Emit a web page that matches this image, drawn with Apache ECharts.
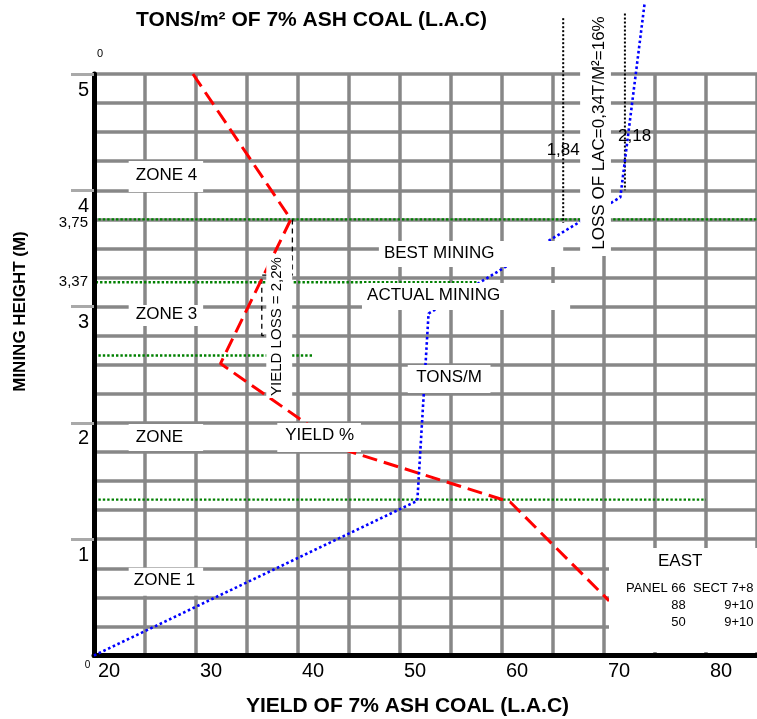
<!DOCTYPE html>
<html>
<head>
<meta charset="utf-8">
<script src="https://cdn.jsdelivr.net/npm/echarts@6/dist/echarts.min.js"></script>
<style>html,body{margin:0;padding:0;background:#fff;}#c{width:757px;height:719px;}</style>
</head>
<body>
<div id="c"></div>
<script>
// ---- data ----
const yieldPct    = [29.7, 39.3, 32.4, 44.5, 60.8, 70.5];
const yieldHeight = [5.0, 3.75, 2.51, 1.77, 1.32, 0.47];
const tonsPos     = [20, 51.7, 52.8, 71.6, 74.0];
const tonsHeight  = [0, 1.33, 2.94, 3.94, 5.62];
const levelHeight = [3.75, 3.21, 2.58, 1.34];
const levelStart  = [20, 19.3, 20, 20];
const levelEnd    = [85, 57.7, 41.4, 80];
const lossLineX      = [66.0, 72.05];
const lossLineTop    = [5.48, 5.52];
const lossLineBottom = [3.72, 4.0];
const bracketX = [39.45, 39.45, 36.45, 36.45, 37.3];
const bracketY = [3.75, 3.27, 3.27, 2.75, 2.75];
const xTickLabels = [20, 30, 40, 50, 60, 70, 80];
const yTickLabels = [1, 2, 3, 4, 5];

const FONT = "'Liberation Sans', Arial, sans-serif";

// annotation boxes/texts (in data units)
const notes = [
  {box:[23.4, 3.985, 30.7, 4.252], texts:[{t:'ZONE 4', at:[24.1, 4.13], align:'left', size:17}]},
  {box:[23.4, 2.833, 30.7, 3.014], texts:[{t:'ZONE 3', at:[24.1, 2.932], align:'left', size:17}]},
  {box:[23.4, 1.758, 30.7, 1.991], texts:[{t:'ZONE', at:[24.1, 1.874], align:'left', size:17}]},
  {box:[23.4, 0.514, 30.7, 0.755], texts:[{t:'ZONE 1', at:[23.9, 0.649], align:'left', size:17}]},
  {box:[37.97, 1.75, 46.17, 1.999], texts:[{t:'YIELD %', at:[42.12, 1.896], size:17}]},
  {box:[47.93, 3.341, 66.0, 3.564], texts:[{t:'BEST MINING', at:[53.84, 3.457], size:17}]},
  {box:[46.27, 2.971, 66.68, 3.203], texts:[{t:'ACTUAL MINING', at:[53.3, 3.10], size:17}]},
  {box:[50.76, 2.257, 58.87, 2.498], texts:[{t:'TONS/M', at:[54.81, 2.395], size:17}]},
  {box:[36.89, 2.214, 39.43, 3.435], texts:[{t:'YIELD LOSS = 2,2%', at:[37.92, 2.829], size:15, rot:90}]},
  {box:[67.66, 3.435, 70.68, 5.568], texts:[{t:'LOSS OF LAC=0,34T/M\u00B2=16%', at:[69.51, 4.493], size:17, rot:90}]},
  {box:[70.49, 0.03, 85.04, 0.924], texts:[
    {t:'EAST', at:[77.47, 0.808], size:17},
    {t:'PANEL 66', at:[78.01, 0.58], size:13, align:'right'},
    {t:'SECT 7+8', at:[84.65, 0.58], size:13, align:'right'},
    {t:'88', at:[78.01, 0.428], size:13, align:'right'},
    {t:'9+10', at:[84.65, 0.428], size:13, align:'right'},
    {t:'50', at:[78.01, 0.282], size:13, align:'right'},
    {t:'9+10', at:[84.65, 0.282], size:13, align:'right'}
  ]},
  {box:null, texts:[
    {t:'1,84', at:[66.0, 4.347], size:17},
    {t:'2,18', at:[73.0, 4.461], size:17},
    {t:'3,75', at:[19.41, 3.719], size:15, align:'right'},
    {t:'3,37', at:[19.41, 3.211], size:15, align:'right'},
    {t:'0', at:[20.59, 5.172], size:11},
    {t:'0', at:[19.36, -0.082], size:10}
  ]}
];

const series = [];
series.push({
  name:'YIELD %', type:'line', clip:false, symbol:'none', z:3,
  data: yieldPct.map((x,i)=>[x, yieldHeight[i]]),
  lineStyle:{color:'#ff0000', width:3, type:[15,7]}
});
series.push({
  name:'TONS/M', type:'line', clip:false, symbol:'none', z:3,
  data: tonsPos.map((x,i)=>[x, tonsHeight[i]]),
  lineStyle:{color:'#0000ff', width:2.6, type:[2.6,2.6]}
});
levelHeight.forEach((h,i)=>{
  series.push({
    type:'line', clip:false, symbol:'none', z:2,
    data:[[levelStart[i], h],[levelEnd[i], h]],
    lineStyle:{color:'#008000', width:2.4, type:[2.4,2]}
  });
});
lossLineX.forEach((x,i)=>{
  series.push({
    type:'line', clip:false, symbol:'none', z:2,
    data:[[x, lossLineTop[i]],[x, lossLineBottom[i]]],
    lineStyle:{color:'#000', width:2, type:[2,2]}
  });
});
series.push({
  type:'line', clip:false, symbol:'none', z:2,
  data: bracketX.map((x,i)=>[x, bracketY[i]]),
  lineStyle:{color:'#000', width:1.3, type:[5,4]}
});
series.push({
  type:'custom', clip:false, z:5, silent:true,
  data: notes.map((n,i)=>[i]),
  encode:{x:-1, y:-1},
  renderItem: function(params, api){
    const n = notes[api.value(0)];
    const ch = [];
    if (n.box) {
      const p1 = api.coord([n.box[0], n.box[3]]);
      const p2 = api.coord([n.box[2], n.box[1]]);
      ch.push({type:'rect', shape:{x:p1[0], y:p1[1], width:p2[0]-p1[0], height:p2[1]-p1[1]}, style:{fill:'#fff'}});
    }
    n.texts.forEach(t=>{
      const p = api.coord(t.at);
      ch.push({type:'text', x:p[0], y:p[1], rotation:(t.rot||0)*Math.PI/180,
        style:{text:t.t, fill:'#000', fontSize:t.size, fontFamily:FONT, align:t.align||'center', verticalAlign:'middle'}});
    });
    return {type:'group', children:ch};
  }
});

const chart = echarts.init(document.getElementById('c'), null, {renderer:'canvas'});
chart.setOption({
  animation:false,
  backgroundColor:'#fff',
  grid:{left:94, top:74, width:665.6, height:581.5, containLabel:false},
  xAxis:{
    type:'value', min:20, max:85, interval:5,
    axisLine:{show:true, onZero:false, lineStyle:{color:'#000', width:5}},
    axisTick:{show:false},
    splitLine:{show:true, lineStyle:{color:'#878787', width:3.5}},
    axisLabel:{customValues:xTickLabels, color:'#000', fontSize:20, fontFamily:FONT, align:'left', margin:6, padding:[0,0,0,4]}
  },
  yAxis:[{
    type:'value', min:0, max:5, interval:1, position:'left', z:3,
    axisLine:{show:true, onZero:false, lineStyle:{color:'#000', width:5}},
    axisTick:{show:true, customValues:yTickLabels, length:23, lineStyle:{color:'#a9a9a9', width:3}},
    splitLine:{show:false},
    axisLabel:{customValues:yTickLabels, color:'#000', fontSize:20, fontFamily:FONT, verticalAlign:'top', margin:5, padding:[6,0,0,0]}
  },{
    type:'value', min:0, max:5, interval:0.25, position:'left',
    axisLine:{show:false}, axisTick:{show:false}, axisLabel:{show:false},
    splitLine:{show:true, lineStyle:{color:'#878787', width:3.5}}
  }],
  graphic:[
    {type:'text', x:311.5, y:20, style:{text:'TONS/m\u00B2 OF 7% ASH COAL (L.A.C)', fill:'#000', fontSize:21, fontWeight:'bold', fontFamily:FONT, align:'center', verticalAlign:'middle'}},
    {type:'text', x:407.5, y:706.5, style:{text:'YIELD OF 7% ASH COAL (L.A.C)', fill:'#000', fontSize:21, fontWeight:'bold', fontFamily:FONT, align:'center', verticalAlign:'middle'}},
    {type:'text', x:20, y:311.5, rotation:Math.PI/2, style:{text:'MINING HEIGHT (M)', fill:'#000', fontSize:17, fontWeight:'bold', fontFamily:FONT, align:'center', verticalAlign:'middle'}}
  ],
  series: series
});
</script>
</body>
</html>
